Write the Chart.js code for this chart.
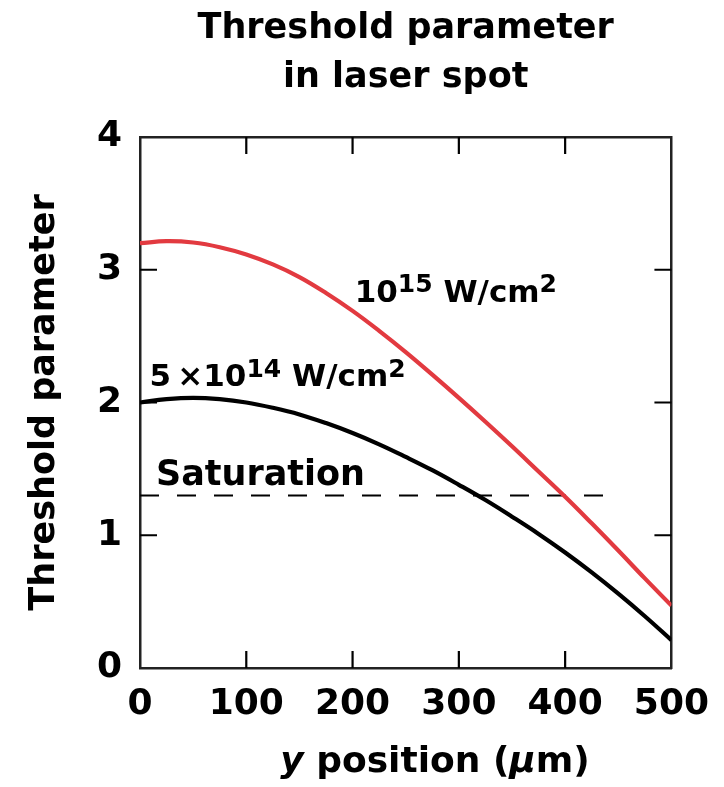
<!DOCTYPE html>
<html>
<head>
<meta charset="utf-8">
<script src="https://cdn.jsdelivr.net/npm/chart.js@4.4.1/dist/chart.umd.min.js"></script>
<style>
  html, body { margin: 0; padding: 0; background: #fff; }
  canvas { display: block; }
</style>
</head>
<body>
<canvas id="chart" width="724" height="787"></canvas>
<script>
// y position across the spot (um)
const positionsUm = [0, 25, 50, 75, 100, 125, 150, 175, 200, 225, 250,
                     275, 300, 325, 350, 375, 400, 425, 450, 475, 500];
// threshold parameter at 10^15 W/cm^2
const highIntensity = [3.20, 3.215, 3.205, 3.17, 3.115, 3.04, 2.945, 2.825, 2.69, 2.54, 2.38,
                       2.21, 2.035, 1.855, 1.67, 1.48, 1.29, 1.09, 0.885, 0.675, 0.47];
// threshold parameter at 5x10^14 W/cm^2
const lowIntensity = [2.00, 2.025, 2.035, 2.025, 2.00, 1.96, 1.91, 1.845, 1.77, 1.685, 1.59,
                      1.49, 1.38, 1.265, 1.14, 1.01, 0.87, 0.72, 0.56, 0.39, 0.21];
// saturation level (dashed)
const saturationX = [0, 438];
const saturationY = [1.3, 1.3];

const xTicks = [0, 100, 200, 300, 400, 500];
const yTicks = [0, 1, 2, 3, 4];
const titleLines = ['Threshold parameter', 'in laser spot'];
const yAxisTitle = 'Threshold parameter';

const FONT = 'DejaVu Sans';
const RED = '#e23a40';
const FRAME = '#222';

const toPoints = (xs, ys) => xs.map((x, i) => ({ x: x, y: ys[i] }));

const fontFor = (style, size) => {
  if (style === 'sup') return `bold ${Math.round(size * 0.8)}px "${FONT}"`;
  if (style === 'it') return `italic bold ${size}px "${FONT}"`;
  return `bold ${size}px "${FONT}"`;
};

// draws a run of text pieces: [text, style]
const drawRich = (ctx, parts, x, y, size, align) => {
  const widths = parts.map(([t, s]) => {
    ctx.font = fontFor(s, size);
    return ctx.measureText(t).width;
  });
  const total = widths.reduce((a, b) => a + b, 0);
  let cx = align === 'center' ? x - total / 2 : x;
  parts.forEach(([t, s], i) => {
    ctx.font = fontFor(s, size);
    ctx.fillText(t, cx, s === 'sup' ? y - size * 0.3 : y);
    cx += widths[i];
  });
};

// inward tick marks on all four sides, plus titles and curve labels
const decorations = {
  id: 'decorations',
  afterDraw(chart) {
    const { ctx, chartArea: area, scales } = chart;
    const sx = scales.x, sy = scales.y;
    const len = 17;

    ctx.save();
    ctx.strokeStyle = '#000';
    ctx.lineWidth = 2.2;
    ctx.beginPath();
    xTicks.slice(1, -1).forEach(v => {
      const px = sx.getPixelForValue(v);
      ctx.moveTo(px, area.bottom); ctx.lineTo(px, area.bottom - len);
      ctx.moveTo(px, area.top); ctx.lineTo(px, area.top + len);
    });
    yTicks.slice(1, -1).forEach(v => {
      const py = sy.getPixelForValue(v);
      ctx.moveTo(area.left, py); ctx.lineTo(area.left + len, py);
      ctx.moveTo(area.right, py); ctx.lineTo(area.right - len, py);
    });
    ctx.stroke();

    ctx.fillStyle = '#000';
    ctx.textBaseline = 'alphabetic';
    ctx.textAlign = 'left';
    const mid = (area.left + area.right) / 2;

    // main title
    drawRich(ctx, [[titleLines[0], '']], mid, 38, 35, 'center');
    drawRich(ctx, [[titleLines[1], '']], mid, 87, 35, 'center');

    // x axis title
    drawRich(ctx, [['y', 'it'], [' position (', ''], ['\u00b5', 'it'], ['m)', '']],
      435, 772, 36, 'center');

    // curve labels
    drawRich(ctx, [['10', ''], ['15', 'sup'], [' W/cm', ''], ['2', 'sup']],
      sx.getPixelForValue(202), sy.getPixelForValue(2.76), 31, 'left');
    drawRich(ctx, [['5\u2009\u00d710', ''], ['14', 'sup'], [' W/cm', ''], ['2', 'sup']],
      sx.getPixelForValue(9), sy.getPixelForValue(2.125), 31, 'left');
    drawRich(ctx, [['Saturation', '']],
      sx.getPixelForValue(15), sy.getPixelForValue(1.38), 35, 'left');
    ctx.restore();
  }
};

const borderOnly = (pos) => ({
  type: 'linear',
  position: pos,
  min: 0,
  max: pos === 'top' ? 500 : 4,
  grid: { display: true, drawOnChartArea: false, drawTicks: false },
  border: { display: true, color: FRAME, width: 2.5 },
  ticks: { display: false },
  afterFit: s => { if (pos === 'top') s.height = 0; else s.width = 0; }
});

new Chart(document.getElementById('chart'), {
  type: 'line',
  data: {
    datasets: [
      {
        label: '1e15',
        data: toPoints(positionsUm, highIntensity),
        borderColor: RED,
        borderWidth: 4.2,
        pointRadius: 0,
        tension: 0.4,
        fill: false
      },
      {
        label: '5e14',
        data: toPoints(positionsUm, lowIntensity),
        borderColor: '#000',
        borderWidth: 4.2,
        pointRadius: 0,
        tension: 0.4,
        fill: false
      },
      {
        label: 'Saturation',
        data: toPoints(saturationX, saturationY),
        borderColor: '#000',
        borderWidth: 2,
        borderDash: [19, 18],
        pointRadius: 0,
        fill: false
      }
    ]
  },
  options: {
    responsive: false,
    animation: false,
    devicePixelRatio: 1,
    layout: { padding: { left: 0, right: 52, top: 137, bottom: 0 } },
    plugins: {
      legend: { display: false },
      title: { display: false },
      tooltip: { enabled: false }
    },
    scales: {
      x: {
        type: 'linear',
        min: 0,
        max: 500,
        afterBuildTicks: s => { s.ticks = xTicks.map(v => ({ value: v })); },
        grid: { display: true, drawOnChartArea: false, drawTicks: false },
        border: { display: true, color: FRAME, width: 2.5 },
        ticks: {
          color: '#000',
          padding: 15,
          maxRotation: 0,
          font: { family: FONT, size: 36, weight: 'bold' }
        },
        afterFit: s => { s.height = 119; }
      },
      y: {
        type: 'linear',
        min: 0,
        max: 4,
        afterBuildTicks: s => { s.ticks = yTicks.map(v => ({ value: v })); },
        grid: { display: true, drawOnChartArea: false, drawTicks: false },
        border: { display: true, color: FRAME, width: 2.5 },
        ticks: {
          color: '#000',
          padding: 18,
          font: { family: FONT, size: 36, weight: 'bold' }
        },
        title: {
          display: true,
          text: yAxisTitle,
          color: '#000',
          padding: { top: 24, bottom: 0 },
          font: { family: FONT, size: 35, weight: 'bold' }
        },
        afterFit: s => { s.width = 140; }
      },
      x2: borderOnly('top'),
      y2: borderOnly('right')
    }
  },
  plugins: [decorations]
});
</script>
</body>
</html>
